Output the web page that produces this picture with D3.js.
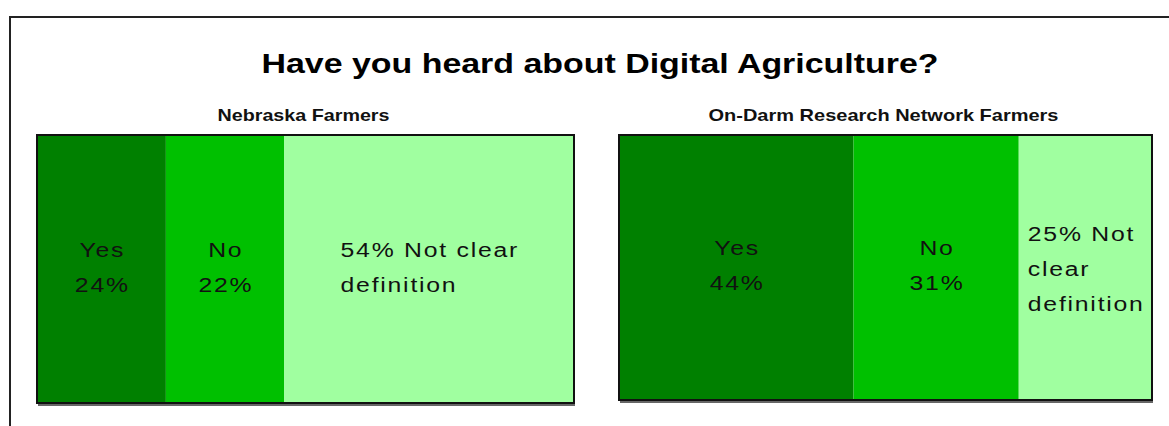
<!DOCTYPE html>
<html>
<head>
<meta charset="utf-8">
<script src="https://cdn.jsdelivr.net/npm/d3@7"></script>
<style>
  html, body { margin: 0; padding: 0; background: #ffffff; }
  svg { display: block; }
</style>
</head>
<body>
<svg id="chart" width="1169" height="426"></svg>
<script>
// Survey answers, one stacked 100% bar per group of farmers
const title = "Have you heard about Digital Agriculture?";
const panelTitles = ["Nebraska Farmers", "On-Darm Research Network Farmers"];
const categories = ["Yes", "No", "Not clear definition"];
const nebraskaValues = [24, 22, 54];
const onFarmValues = [44, 31, 25];
const colors = ["#008000", "#00c000", "#a0ffa0"];

const svg = d3.select("#chart");
const W = 1169, H = 426;

// outer frame (only its top and left edges fall inside the view)
svg.append("path")
  .attr("d", `M10,${H + 5} L10,17 L${W + 5},17`)
  .attr("fill", "none")
  .attr("stroke", "#222")
  .attr("stroke-width", 2);

// main title
svg.append("text")
  .attr("x", 600).attr("y", 73)
  .attr("text-anchor", "middle")
  .attr("font-family", "Liberation Sans, Arial, sans-serif")
  .attr("font-weight", "bold")
  .attr("font-size", 27)
  .attr("fill", "#000")
  .attr("textLength", 677)
  .attr("lengthAdjust", "spacingAndGlyphs")
  .text(title);

const panels = [
  { title: panelTitles[0], values: nebraskaValues, x0: 37, x1: 574, y0: 135, y1: 403, titleW: 172 },
  { title: panelTitles[1], values: onFarmValues,  x0: 619, x1: 1152, y0: 135, y1: 400, titleW: 350 }
];

const labelFont = "Liberation Sans, Arial, sans-serif";
const labelSize = 21;
const letterSpacing = 1.5;
const stretch = 1.18;   // labels are drawn a little wide
const lineGap = 35;

// on-screen width of a string in the label style
const measurer = svg.append("text")
  .attr("font-family", labelFont)
  .attr("font-size", labelSize)
  .attr("letter-spacing", letterSpacing)
  .attr("visibility", "hidden");
function textWidth(s) {
  measurer.text(s);
  return (measurer.node().getComputedTextLength() - letterSpacing) * stretch;
}
// greedy word wrap into lines that fit a width
function wrap(s, maxW) {
  const words = s.split(" ");
  const lines = [];
  let cur = "";
  words.forEach(w => {
    const t = cur ? cur + " " + w : w;
    if (cur && textWidth(t) > maxW) { lines.push(cur); cur = w; }
    else cur = t;
  });
  if (cur) lines.push(cur);
  return lines;
}

panels.forEach(p => {
  const g = svg.append("g");
  const x = d3.scaleLinear().domain([0, 100]).range([p.x0, p.x1]);
  const ends = d3.cumsum(p.values);
  const segs = p.values.map((v, i) => ({
    cat: categories[i], value: v, start: ends[i] - v, end: ends[i], color: colors[i], i
  }));

  // panel heading
  g.append("text")
    .attr("x", (p.x0 + p.x1) / 2 - 2).attr("y", 121)
    .attr("text-anchor", "middle")
    .attr("font-family", labelFont)
    .attr("font-weight", "bold")
    .attr("font-size", 17)
    .attr("fill", "#111")
    .attr("textLength", p.titleW)
    .attr("lengthAdjust", "spacingAndGlyphs")
    .text(p.title);

  // stacked segments
  g.selectAll("rect.seg").data(segs).join("rect")
    .attr("class", "seg")
    .attr("x", d => x(d.start))
    .attr("y", p.y0)
    .attr("width", d => x(d.end) - x(d.start))
    .attr("height", p.y1 - p.y0)
    .attr("fill", d => d.color);

  // panel outline with a slight drop shadow along the bottom
  g.append("line")
    .attr("x1", p.x0 + 1).attr("x2", p.x1 + 1)
    .attr("y1", p.y1 + 2).attr("y2", p.y1 + 2)
    .attr("stroke", "#333").attr("stroke-width", 1.5);
  g.append("rect")
    .attr("x", p.x0).attr("y", p.y0)
    .attr("width", p.x1 - p.x0).attr("height", p.y1 - p.y0)
    .attr("fill", "none")
    .attr("stroke", "#111")
    .attr("stroke-width", 2);

  const mid = (p.y0 + p.y1) / 2;
  segs.forEach(d => {
    const sx0 = x(d.start), sx1 = x(d.end);
    const cx = (sx0 + sx1) / 2;
    let lines, left;
    if (d.i < 2) {
      lines = [d.cat, d.value + "%"];
      left = null; // each line centred on its own
    } else {
      lines = wrap(`${d.value}% ${d.cat}`, sx1 - sx0 - 8);
      left = cx - d3.max(lines, textWidth) / 2;
    }
    const n = lines.length;
    const base = mid + 5 + (n > 2 ? 3 : 0);
    lines.forEach((s, k) => {
      const w = textWidth(s);
      const lx = left === null ? cx - w / 2 : left;
      g.append("text")
        .attr("transform", `translate(${lx},${base + (k - (n - 1) / 2) * lineGap}) scale(${stretch},1)`)
        .attr("font-family", labelFont)
        .attr("font-size", labelSize)
        .attr("letter-spacing", letterSpacing)
        .attr("fill", "#111")
        .text(s);
    });
  });
});

measurer.remove();
</script>
</body>
</html>
